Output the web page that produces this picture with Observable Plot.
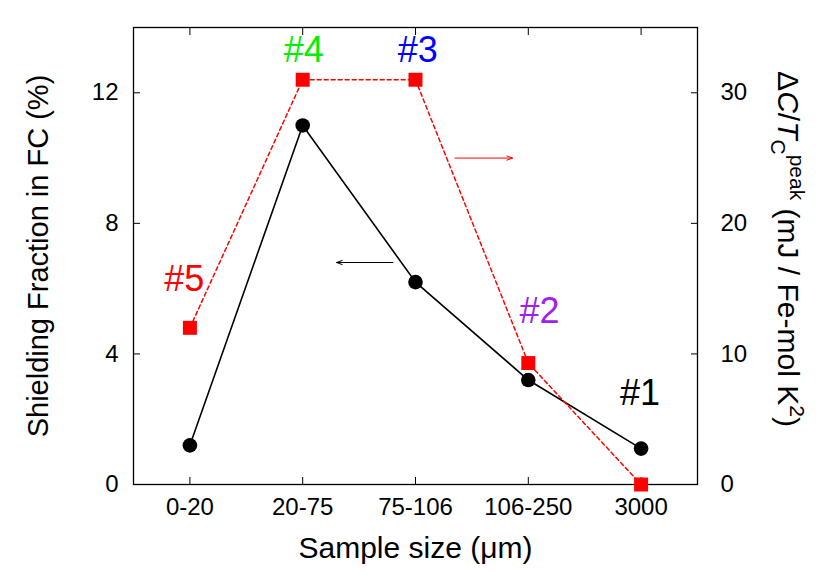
<!DOCTYPE html>
<html><head><meta charset="utf-8">
<script src="https://cdn.jsdelivr.net/npm/d3@7"></script>
<script src="https://cdn.jsdelivr.net/npm/@observablehq/plot@0.6"></script>
<style>body{margin:0;background:#fff} svg{display:block}</style>
</head><body><div id="chart"></div>
<script>
const categories = ["0-20", "20-75", "75-106", "106-250", "3000"];
const shielding = [1.2, 11.0, 6.2, 3.2, 1.1];          // left axis, %
const deltaC = [12, 31, 31, 9.3, 0];                    // right axis, mJ/Fe-mol K^2
const sampleLabels = ["#5", "#4", "#3", "#2", "#1"];
const labelColors = ["#ff0000", "#00ee00", "#0000ff", "#a020f0", "#000000"];
const labelX = [0.95, 2.01, 3.02, 4.1, 4.99];
const labelY = [6.28, 13.3, 13.3, 5.3, 2.8];            // in left-axis units
const leftTicks = [0, 4, 8, 12];
const rightTicks = [0, 10, 20, 30];
const leftDomain = [0, 14];
const rightPerLeft = 2.5;                               // right axis = left axis * 2.5
const arrowBlack = [{x1: 2.80, x2: 2.30, y: 6.8}];      // left units
const arrowRed = [{x1: 3.35, x2: 3.86, y: 25}];         // right units

const idx = d3.range(categories.length);
const font = "'Liberation Sans', Arial, Helvetica, sans-serif";

const plot = Plot.plot({
  width: 830, height: 581,
  marginLeft: 133, marginRight: 133, marginTop: 27, marginBottom: 97,
  style: {fontFamily: font, fontSize: "24px", color: "black", background: "white", overflow: "visible"},
  x: {domain: [0.5, categories.length + 0.5]},
  y: {domain: leftDomain},
  color: {type: "identity"},
  marks: [
    Plot.axisX({anchor: "bottom", ticks: idx.map(i => i + 1), tickFormat: d => categories[d - 1],
      tickSize: -7, tickPadding: 20, fontSize: 24, label: null, strokeWidth: 1}),
    Plot.axisX({anchor: "top", ticks: idx.map(i => i + 1), tickFormat: () => "",
      tickSize: -7, label: null, strokeWidth: 1}),
    Plot.axisY({anchor: "left", ticks: leftTicks, tickSize: -7, tickPadding: 22, fontSize: 24, label: null, strokeWidth: 1}),
    Plot.axisY({anchor: "right", ticks: rightTicks.map(v => v / rightPerLeft), tickFormat: d => Math.round(d * rightPerLeft),
      tickSize: -7, tickPadding: 30, fontSize: 24, label: null, strokeWidth: 1}),
    Plot.frame({stroke: "black", strokeWidth: 1.3}),
    Plot.line(idx, {x: i => i + 1, y: i => shielding[i], stroke: "black", strokeWidth: 1.6}),
    Plot.dot(idx, {x: i => i + 1, y: i => shielding[i], r: 7.3, fill: "black"}),
    Plot.line(idx, {x: i => i + 1, y: i => deltaC[i] / rightPerLeft, stroke: "#ff0000", strokeWidth: 1.5, strokeDasharray: "4,3"}),
    Plot.dot(idx, {x: i => i + 1, y: i => deltaC[i] / rightPerLeft, symbol: "square", r: 7.9, fill: "#ff0000"}),
    Plot.arrow(arrowBlack, {x1: "x1", x2: "x2", y1: "y", y2: "y", stroke: "black", strokeWidth: 1, headLength: 9, headAngle: 40}),
    Plot.arrow(arrowRed, {x1: "x1", x2: "x2", y1: d => d.y / rightPerLeft, y2: d => d.y / rightPerLeft, stroke: "#ff0000", strokeWidth: 1, headLength: 9, headAngle: 40}),
    Plot.text(idx, {x: i => labelX[i], y: i => labelY[i], text: i => sampleLabels[i], fill: i => labelColors[i], fontSize: 36, lineAnchor: "middle"}),
    Plot.text(["Sample size (\u03bcm)"], {frameAnchor: "bottom", dy: 64, fontSize: 30, textAnchor: "middle", lineAnchor: "middle"}),
    Plot.text(["Shielding Fraction in FC (%)"], {frameAnchor: "left", dx: -95, rotate: -90, fontSize: 29, textAnchor: "middle", lineAnchor: "middle"}),
    Plot.text(["RIGHTLABEL"], {frameAnchor: "right", dx: 90, dy: -7, rotate: 90, fontSize: 30, textAnchor: "middle", lineAnchor: "middle"})
  ]
});

// Rich text (italics, sub/superscripts) for the right-axis label
d3.select(plot).selectAll("text").filter(function() { return this.textContent === "RIGHTLABEL"; })
  .each(function() {
    const t = d3.select(this);
    t.text(null);
    t.append("tspan").text("\u0394");
    t.append("tspan").attr("font-style", "italic").text("C");
    t.append("tspan").text("/");
    t.append("tspan").attr("font-style", "italic").text("T");
    t.append("tspan").attr("font-size", 21).attr("dy", 7).text("C");
    t.append("tspan").attr("font-size", 21).attr("dy", -19).text("peak");
    t.append("tspan").attr("dy", 12).text(" (mJ / Fe-mol K");
    t.append("tspan").attr("font-size", 21).attr("dy", -12).text("2");
    t.append("tspan").attr("dy", 12).text(")");
  });

document.getElementById("chart").appendChild(plot);
</script>
</body></html>
